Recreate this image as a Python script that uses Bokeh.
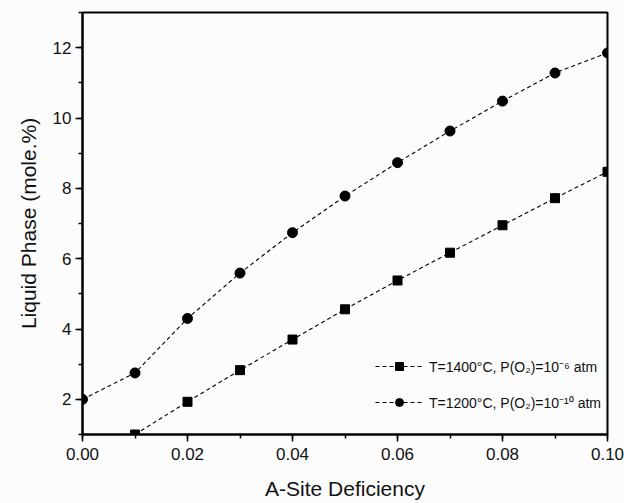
from bokeh.plotting import figure
from bokeh.models import Range1d, SingleIntervalTicker, NumeralTickFormatter, Legend, LegendItem
from bokeh.embed import file_html
from bokeh.resources import INLINE

# A-site deficiency values
x_1400 = [0.01, 0.02, 0.03, 0.04, 0.05, 0.06, 0.07, 0.08, 0.09, 0.10]
y_1400 = [1.00, 1.93, 2.83, 3.70, 4.56, 5.38, 6.17, 6.95, 7.72, 8.47]
x_1200 = [0.00, 0.01, 0.02, 0.03, 0.04, 0.05, 0.06, 0.07, 0.08, 0.09, 0.10]
y_1200 = [2.00, 2.75, 4.30, 5.59, 6.74, 7.78, 8.73, 9.63, 10.48, 11.28, 11.85]

label_1400 = "T=1400°C, P(O₂)=10⁻⁶ atm"
label_1200 = "T=1200°C, P(O₂)=10⁻¹⁰ atm"
x_title = "A-Site Deficiency"
y_title = "Liquid Phase (mole.%)"

FONT = "Liberation Sans"
BG = "#fcfcfc"

p = figure(width=624, height=503, output_backend="svg", toolbar_location=None,
           x_range=Range1d(0.0, 0.10), y_range=Range1d(1, 13),
           min_border_left=82, min_border_right=17, min_border_top=12, min_border_bottom=69)

p.background_fill_color = BG
p.border_fill_color = BG
p.outline_line_color = "black"
p.outline_line_width = 2
p.xgrid.visible = False
p.ygrid.visible = False

p.xaxis.ticker = SingleIntervalTicker(interval=0.02, num_minor_ticks=2)
p.xaxis.formatter = NumeralTickFormatter(format="0.00")
p.yaxis.ticker = SingleIntervalTicker(interval=2, num_minor_ticks=2)

for ax in (p.xaxis, p.yaxis):
    ax.axis_line_width = 2
    ax.axis_line_color = "black"
    ax.major_tick_line_width = 1.5
    ax.minor_tick_line_width = 1.5
    ax.major_tick_line_color = "black"
    ax.minor_tick_line_color = "black"
    ax.major_tick_out = 7
    ax.major_tick_in = 0
    ax.minor_tick_out = 4
    ax.minor_tick_in = 0
    ax.major_label_text_font = FONT
    ax.major_label_text_font_size = "17px"
    ax.major_label_text_color = "#111111"
    ax.axis_label_text_font = FONT
    ax.axis_label_text_font_size = "21px"
    ax.axis_label_text_font_style = "normal"
    ax.axis_label_text_color = "#111111"

p.xaxis.axis_label = x_title
p.yaxis.axis_label = y_title
p.xaxis.major_label_standoff = 6
p.yaxis.major_label_standoff = 4
p.xaxis.axis_label_standoff = 14
p.yaxis.axis_label_standoff = 10

l1 = p.line(x_1400, y_1400, line_color="black", line_width=1.1, line_dash="4 3")
m1 = p.scatter(x_1400, y_1400, marker="square", size=9, fill_color="black", line_color="black")
l2 = p.line(x_1200, y_1200, line_color="black", line_width=1.1, line_dash="4 3")
m2 = p.scatter(x_1200, y_1200, marker="circle", size=10, fill_color="black", line_color="black")

legend = Legend(items=[LegendItem(label=label_1400, renderers=[l1, m1]),
                       LegendItem(label=label_1200, renderers=[l2, m2])],
                location=(293, 22), border_line_alpha=0, background_fill_alpha=0,
                glyph_width=48, glyph_height=20, label_height=20, spacing=16,
                padding=0, margin=0, label_standoff=6,
                label_text_font=FONT, label_text_font_size="14px", label_text_color="#111111")
p.add_layout(legend)

open("out.html", "w").write(file_html(p, INLINE))
